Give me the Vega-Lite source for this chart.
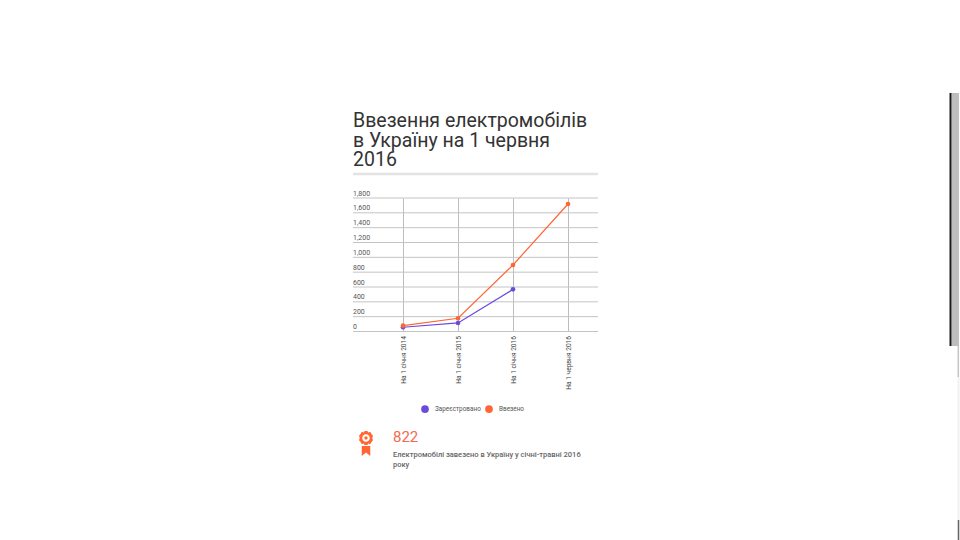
{"$schema":"https://vega.github.io/schema/vega-lite/v6.json","autosize":"none","width":245,"height":133.5,"padding":{"left":353,"top":198,"right":362,"bottom":208.5},"background":"#ffffff",
"title":{"text":["Ввезення електромобілів","в Україну на 1 червня","2016"],"anchor":"start","frame":"group","font":"Roboto","fontSize":19.5,"fontWeight":400,"color":"#333333","lineHeight":19.7,"baseline":"top","offset":-81.5},
"config":{"view":{"stroke":null},"font":"Roboto"},
"datasets":{"series":[
{"date":"На 1 січня 2014","series":"Зареєстровано","value":57},
{"date":"На 1 січня 2015","series":"Зареєстровано","value":115},
{"date":"На 1 січня 2016","series":"Зареєстровано","value":568},
{"date":"На 1 січня 2014","series":"Ввезено","value":78},
{"date":"На 1 січня 2015","series":"Ввезено","value":178},
{"date":"На 1 січня 2016","series":"Ввезено","value":897},
{"date":"На 1 червня 2016","series":"Ввезено","value":1719}],
"ticks":[{"v":0},{"v":200},{"v":400},{"v":600},{"v":800},{"v":1000},{"v":1200},{"v":1400},{"v":1600},{"v":1800}]},
"layer":[
{"data":{"name":"ticks"},"mark":{"type":"rule","color":"#c4c4c4","strokeWidth":1,"clip":false},"encoding":{"y":{"field":"v","type":"quantitative","scale":{"domain":[0,1800],"nice":false},"axis":null}}},
{"data":{"name":"ticks"},"mark":{"type":"text","align":"left","baseline":"bottom","dy":-1.5,"font":"Roboto","fontSize":7,"color":"#555555","clip":false},"encoding":{"x":{"value":0},"y":{"field":"v","type":"quantitative"},"text":{"field":"v","type":"quantitative","format":",d"}}},
{"data":{"name":"series"},"mark":{"type":"line","strokeWidth":1.2,"clip":false,"point":{"filled":true,"size":22,"opacity":1}},
"encoding":{
"x":{"field":"date","type":"ordinal","sort":null,"scale":{"type":"point","padding":0,"domain":["На 1 січня 2014","На 1 січня 2015","На 1 січня 2016","На 1 червня 2016"],"range":[50,215]},
"axis":{"title":null,"domain":false,"ticks":false,"grid":true,"gridColor":"#bdbdbd","gridWidth":1,"labelAngle":270,"labelAlign":"right","labelBaseline":"middle","labelFont":"Roboto","labelFontSize":6.6,"labelColor":"#444444","labelPadding":4,"labelLimit":100}},
"y":{"field":"value","type":"quantitative"},
"color":{"field":"series","type":"nominal","scale":{"domain":["Зареєстровано","Ввезено"],"range":["#6a4be0","#ff6633"]},
"legend":{"title":null,"orient":"none","legendX":68,"legendY":207,"direction":"horizontal","symbolType":"circle","symbolSize":60,"symbolOpacity":1,"symbolStrokeWidth":0,"labelFont":"Roboto","labelFontSize":6.4,"labelColor":"#555555","columnPadding":4,"labelOffset":6}}
}},
{"data":{"values":[{"v":2123}]},"mark":{"type":"rule","color":"#e3e3e3","strokeWidth":2.5,"clip":false},"encoding":{"y":{"field":"v","type":"quantitative"}}},
{"data":{"values":[{"label":"822","v":-1420}]},"mark":{"type":"text","align":"left","baseline":"middle","font":"Roboto","fontSize":15,"color":"#f26b4e","clip":false},"encoding":{"x":{"value":40},"y":{"field":"v","type":"quantitative"},"text":{"field":"label"}}},
{"data":{"values":[{"label":"Електромобілі завезено в Україну у січні-травні 2016","v":-1660},{"label":"року","v":-1795}]},"mark":{"type":"text","align":"left","baseline":"middle","font":"Roboto","fontSize":7.5,"fontWeight":500,"color":"#666666","clip":false},"encoding":{"x":{"value":40},"y":{"field":"v","type":"quantitative"},"text":{"field":"label"}}},
{"data":{"values":[{"v":-1510}]},"mark":{"type":"point","filled":true,"color":"#ff6633","strokeWidth":0,"size":625,"opacity":1,"clip":false,"shape":"M-0.12,-1 L0.12,-1 L0.17,-0.88 L0.34,-0.94 L0.42,-0.78 L0.56,-0.62 L0.5,-0.44 L0.56,-0.26 L0.42,-0.1 L0.34,0.06 L0.17,0 L0.12,0.12 L-0.12,0.12 L-0.17,0 L-0.34,0.06 L-0.42,-0.1 L-0.56,-0.26 L-0.5,-0.44 L-0.56,-0.62 L-0.42,-0.78 L-0.34,-0.94 L-0.17,-0.88 Z M-0.3,-0.44 A0.3,0.3 0 1 0 0.3,-0.44 A0.3,0.3 0 1 0 -0.3,-0.44 Z M-0.13,-0.44 A0.13,0.13 0 1 1 0.13,-0.44 A0.13,0.13 0 1 1 -0.13,-0.44 Z M-0.34,0.2 L0.34,0.2 L0.34,1 L0,0.72 L-0.34,1 Z"},"encoding":{"x":{"value":13},"y":{"field":"v","type":"quantitative"}}},
{"data":{"values":[{"a":-613,"b":-2811}]},"mark":{"type":"rule","color":"#f0f0f0","strokeWidth":2,"clip":false},"encoding":{"x":{"value":605.5},"y":{"field":"a","type":"quantitative"},"y2":{"field":"b"}}},
{"data":{"values":[{"a":3216,"b":-613}]},"mark":{"type":"rule","color":"#c4c4c4","strokeWidth":1.5,"clip":false},"encoding":{"x":{"value":605.3},"y":{"field":"a","type":"quantitative"},"y2":{"field":"b"}}},
{"data":{"values":[{"a":3216,"b":-196}]},"mark":{"type":"rule","color":"#bdbdbd","strokeWidth":7,"clip":false},"encoding":{"x":{"value":602},"y":{"field":"a","type":"quantitative"},"y2":{"field":"b"}}},
{"data":{"values":[{"a":3216,"b":-196}]},"mark":{"type":"rule","color":"#1a1a1a","strokeWidth":2,"clip":false},"encoding":{"x":{"value":597.5},"y":{"field":"a","type":"quantitative"},"y2":{"field":"b"}}},
{"data":{"values":[{"a":-2541,"b":-2811}]},"mark":{"type":"rule","color":"#666666","strokeWidth":1.5,"clip":false},"encoding":{"x":{"value":605.5},"y":{"field":"a","type":"quantitative"},"y2":{"field":"b"}}}
]}
